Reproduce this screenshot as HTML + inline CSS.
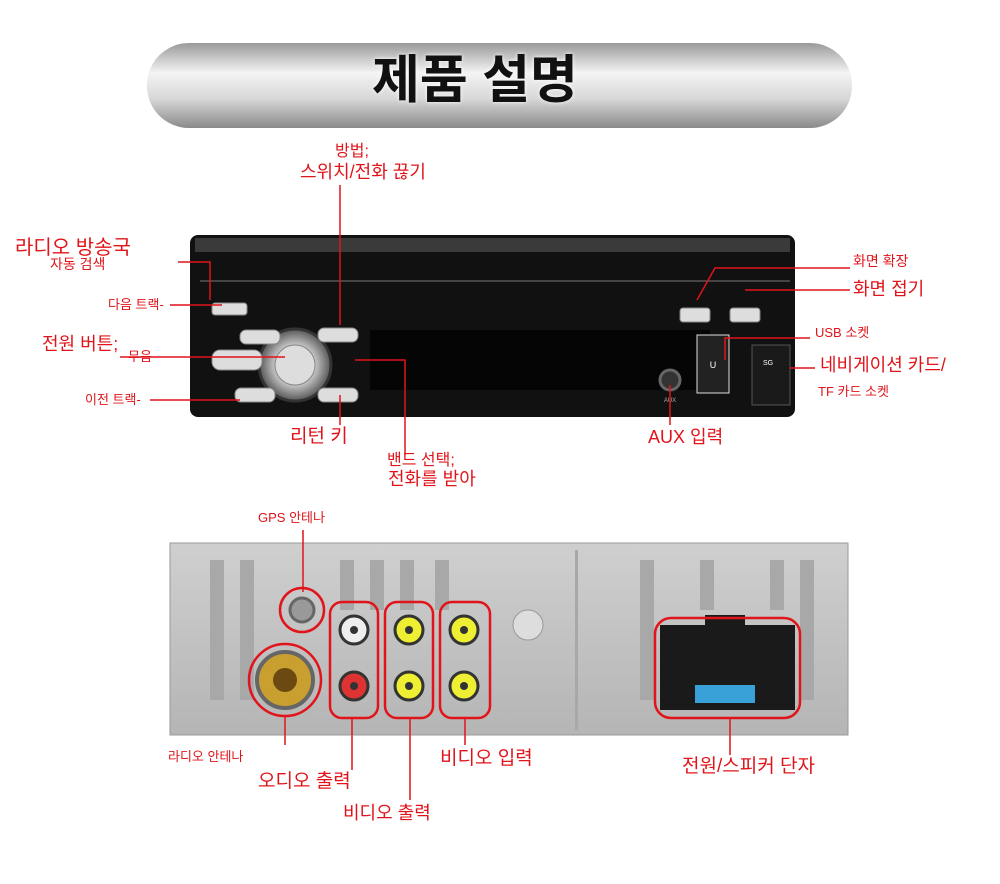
<!DOCTYPE html>
<html><head><meta charset="utf-8"><style>
body{margin:0;background:#fff;}
#w{position:relative;width:1000px;height:884px;overflow:hidden;font-family:"Liberation Sans","Noto Sans CJK KR",sans-serif;}
.t{position:absolute;color:#e0141a;white-space:nowrap;line-height:1;}
svg{position:absolute;left:0;top:0;}
</style></head><body><div id="w">
<svg width="1000" height="884">
<defs>
<linearGradient id="pill" x1="0" y1="0" x2="0" y2="1"><stop offset="0" stop-color="#9a9a9a"/><stop offset="0.35" stop-color="#f4f4f4"/><stop offset="0.65" stop-color="#d8d8d8"/><stop offset="1" stop-color="#8a8a8a"/></linearGradient>
<radialGradient id="knob"><stop offset="0" stop-color="#fff"/><stop offset="0.6" stop-color="#bbb"/><stop offset="1" stop-color="#555"/></radialGradient>
<linearGradient id="alu" x1="0" y1="0" x2="0" y2="1"><stop offset="0" stop-color="#cfcfcf"/><stop offset="1" stop-color="#b5b5b5"/></linearGradient>
</defs>
<rect x="147" y="43" width="705" height="85" rx="42" fill="url(#pill)"/>
<!-- top device -->
<rect x="190" y="235" width="605" height="182" rx="8" fill="#111"/>
<rect x="195" y="238" width="595" height="14" fill="#3a3a3a"/>
<rect x="200" y="280" width="590" height="2" fill="#444"/>
<rect x="370" y="330" width="340" height="60" fill="#050505"/>
<circle cx="295" cy="365" r="36" fill="url(#knob)" stroke="#333" stroke-width="3"/>
<circle cx="295" cy="365" r="20" fill="#ddd" stroke="#888"/>
<g fill="#ddd" stroke="#888">
<rect x="212" y="303" width="35" height="12" rx="3"/>
<rect x="240" y="330" width="40" height="14" rx="6"/>
<rect x="212" y="350" width="50" height="20" rx="8"/>
<rect x="235" y="388" width="40" height="14" rx="6"/>
<rect x="318" y="328" width="40" height="14" rx="6"/>
<rect x="318" y="388" width="40" height="14" rx="6"/>
<rect x="680" y="308" width="30" height="14" rx="3"/>
<rect x="730" y="308" width="30" height="14" rx="3"/>
</g>
<rect x="697" y="335" width="32" height="58" fill="#222" stroke="#ddd"/>
<text x="713" y="368" fill="#fff" font-size="9" text-anchor="middle" font-family="Liberation Sans">U</text>
<rect x="752" y="345" width="38" height="60" fill="#1a1a1a" stroke="#555"/>
<text x="763" y="365" fill="#fff" font-size="7" font-family="Liberation Sans">SG</text>
<circle cx="670" cy="380" r="10" fill="#333" stroke="#666" stroke-width="3"/>
<text x="670" y="402" fill="#aaa" font-size="6" text-anchor="middle" font-family="Liberation Sans">AUX</text>
<!-- bottom device -->
<rect x="170" y="543" width="678" height="192" fill="url(#alu)" stroke="#999"/>
<g fill="#a8a8a8">
<rect x="210" y="560" width="14" height="140"/><rect x="240" y="560" width="14" height="140"/>
<rect x="340" y="560" width="14" height="50"/><rect x="370" y="560" width="14" height="50"/>
<rect x="400" y="560" width="14" height="50"/><rect x="435" y="560" width="14" height="50"/>
<rect x="575" y="550" width="3" height="180"/>
<rect x="640" y="560" width="14" height="140"/><rect x="700" y="560" width="14" height="50"/>
<rect x="770" y="560" width="14" height="50"/><rect x="800" y="560" width="14" height="140"/>
</g>
<circle cx="302" cy="610" r="12" fill="#999" stroke="#666" stroke-width="3"/>
<circle cx="285" cy="680" r="28" fill="#c9a030" stroke="#666" stroke-width="4"/>
<circle cx="285" cy="680" r="12" fill="#6a4a10"/>
<g stroke="#333" stroke-width="3">
<circle cx="354" cy="630" r="14" fill="#eee"/><circle cx="354" cy="686" r="14" fill="#d33"/>
<circle cx="409" cy="630" r="14" fill="#ee3"/><circle cx="409" cy="686" r="14" fill="#ee3"/>
<circle cx="464" cy="630" r="14" fill="#ee3"/><circle cx="464" cy="686" r="14" fill="#ee3"/>
</g>
<g fill="#333"><circle cx="354" cy="630" r="4"/><circle cx="354" cy="686" r="4"/><circle cx="409" cy="630" r="4"/><circle cx="409" cy="686" r="4"/><circle cx="464" cy="630" r="4"/><circle cx="464" cy="686" r="4"/></g>
<rect x="660" y="625" width="135" height="85" fill="#1a1a1a"/>
<rect x="705" y="615" width="40" height="15" fill="#1a1a1a"/>
<rect x="695" y="685" width="60" height="18" fill="#3aa0d8"/>
<circle cx="528" cy="625" r="15" fill="#ddd" stroke="#999"/>
<!-- red outlines -->
<g fill="none" stroke="#e0141a" stroke-width="2.5">
<circle cx="302" cy="610" r="22"/><circle cx="285" cy="680" r="36"/>
<rect x="330" y="602" width="48" height="116" rx="12"/>
<rect x="385" y="602" width="48" height="116" rx="12"/>
<rect x="440" y="602" width="50" height="116" rx="12"/>
<rect x="655" y="618" width="145" height="100" rx="16"/>
</g>
<!-- leader lines -->
<g stroke="#e0141a" stroke-width="1.5" fill="none">
<path d="M340 185V325"/><path d="M178 262H210V300"/><path d="M170 305H222"/>
<path d="M120 357H285"/><path d="M150 400H240"/><path d="M340 395V425"/>
<path d="M355 360H405V455"/><path d="M670 385V425"/>
<path d="M850 268H715L697 300"/><path d="M850 290H745"/><path d="M810 338H725V360"/>
<path d="M790 368H815"/>
<path d="M303 530V592"/><path d="M285 716V745"/><path d="M352 718V770"/>
<path d="M410 718V800"/><path d="M465 718V745"/><path d="M730 718V755"/>
</g>
</svg>
<div class="t" style="left:372px;top:55px;font-size:52px;color:#111;font-weight:bold;text-shadow:0 0 4px #fff">제품 설명</div>
<div class="t" style="left:335px;top:144px;font-size:16px">방법;</div>
<div class="t" style="left:300px;top:163px;font-size:18px">스위치/전화 끊기</div>
<div class="t" style="left:15px;top:238px;font-size:20px">라디오 방송국</div>
<div class="t" style="left:50px;top:257px;font-size:14px">자동 검색</div>
<div class="t" style="left:108px;top:298px;font-size:13px">다음 트랙-</div>
<div class="t" style="left:42px;top:335px;font-size:18px">전원 버튼;</div>
<div class="t" style="left:128px;top:350px;font-size:13px">무음</div>
<div class="t" style="left:85px;top:393px;font-size:13px">이전 트랙-</div>
<div class="t" style="left:290px;top:427px;font-size:19px">리턴 키</div>
<div class="t" style="left:387px;top:453px;font-size:16px">밴드 선택;</div>
<div class="t" style="left:388px;top:470px;font-size:18px">전화를 받아</div>
<div class="t" style="left:648px;top:428px;font-size:18px">AUX 입력</div>
<div class="t" style="left:853px;top:254px;font-size:14px">화면 확장</div>
<div class="t" style="left:853px;top:280px;font-size:18px">화면 접기</div>
<div class="t" style="left:815px;top:326px;font-size:13px">USB 소켓</div>
<div class="t" style="left:820px;top:356px;font-size:18px">네비게이션 카드/</div>
<div class="t" style="left:818px;top:385px;font-size:13px">TF 카드 소켓</div>
<div class="t" style="left:258px;top:511px;font-size:13px">GPS 안테나</div>
<div class="t" style="left:168px;top:750px;font-size:13px">라디오 안테나</div>
<div class="t" style="left:258px;top:772px;font-size:19px">오디오 출력</div>
<div class="t" style="left:343px;top:804px;font-size:18px">비디오 출력</div>
<div class="t" style="left:440px;top:749px;font-size:19px">비디오 입력</div>
<div class="t" style="left:682px;top:757px;font-size:19px">전원/스피커 단자</div>
</div></body></html>
